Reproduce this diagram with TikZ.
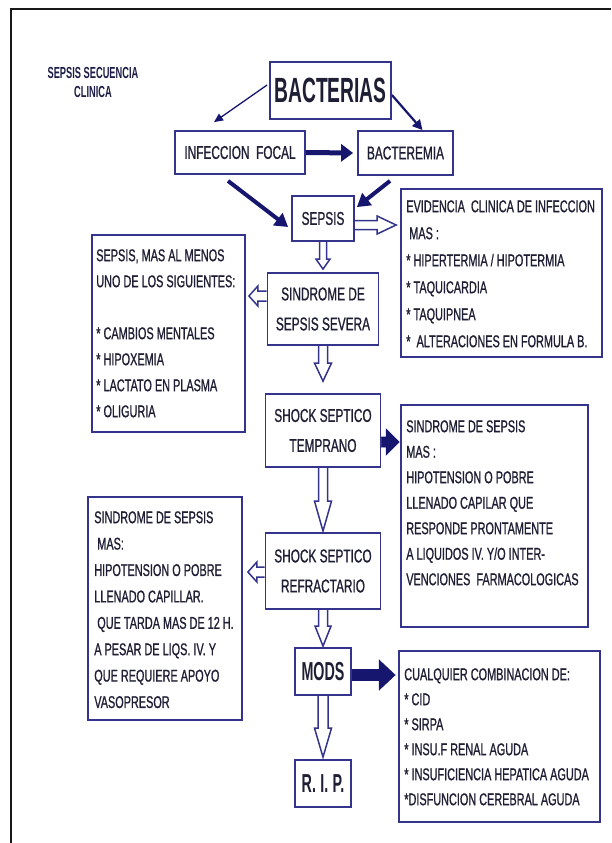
\documentclass[tikz,border=0pt]{standalone}
\usepackage{fontspec}
\usetikzlibrary{arrows.meta,calc}
\newfontfamily\infofont[FakeStretch=0.64,FakeBold=0.9]{Liberation Sans}
\newfontfamily\heavyfont[FakeStretch=0.55]{Liberation Sans Bold}
\newfontfamily\titlefont[FakeStretch=0.58]{Liberation Sans Bold}
\definecolor{boxc}{RGB}{52,52,140}
\definecolor{txtc}{RGB}{30,30,52}
\definecolor{navy}{RGB}{22,22,110}
\definecolor{titlec}{RGB}{28,28,70}
\pgfdeclarelayer{background}
\pgfsetlayers{background,main}

\tikzset{
  box/.style={draw=boxc, line width=1.8pt, inner sep=0pt, text=txtc, align=center},
  mainbox/.style={box, font=\infofont\fontsize{18.5}{30}\selectfont},
  heavybox/.style={box, font=\heavyfont\fontsize{26}{30}\selectfont},
  infobox/.style={draw=boxc, line width=1.8pt, inner sep=0pt},
  infotext/.style={anchor=north west, inner sep=0pt, align=left, text=txtc},
  hollowarr/.style={draw=boxc, fill=white, line width=1.5pt, line join=miter},
  solidarr/.style={fill=navy, draw=navy, line width=0.6pt, line join=miter},
  link/.style={draw=navy},
}

% block arrows: start, tip, shaft half-width, head half-width, head length
\newcommand\hollowdown[5]{\draw[hollowarr] ($(#1)+(-#3,0)$) -- ($(#2)+(-#3,-#5)$) -- ($(#2)+(-#4,-#5)$) -- (#2) -- ($(#2)+(#4,-#5)$) -- ($(#2)+(#3,-#5)$) -- ($(#1)+(#3,0)$);}
\newcommand\hollowright[5]{\draw[hollowarr] ($(#1)+(0,-#3)$) -- ($(#2)+(-#5,-#3)$) -- ($(#2)+(-#5,-#4)$) -- (#2) -- ($(#2)+(-#5,#4)$) -- ($(#2)+(-#5,#3)$) -- ($(#1)+(0,#3)$);}
\newcommand\hollowleft[5]{\draw[hollowarr] ($(#1)+(0,-#3)$) -- ($(#2)+(#5,-#3)$) -- ($(#2)+(#5,-#4)$) -- (#2) -- ($(#2)+(#5,#4)$) -- ($(#2)+(#5,#3)$) -- ($(#1)+(0,#3)$);}
\newcommand\solidright[5]{\filldraw[solidarr] ($(#1)+(0,-#3)$) -- ($(#2)+(-#5,-#3)$) -- ($(#2)+(-#5,-#4)$) -- (#2) -- ($(#2)+(-#5,#4)$) -- ($(#2)+(-#5,#3)$) -- ($(#1)+(0,#3)$) -- cycle;}

\begin{document}
\begin{tikzpicture}[x=1pt,y=-1pt]
\useasboundingbox (0,0) rectangle (611,843);

% page frame
\draw[line width=2.4pt, black!90] (11,843) -- (11,9) -- (611,9);

% heading
\node[text=titlec, font=\titlefont\fontsize{16}{19}\selectfont, align=center, inner sep=0pt] (title) at (93,82.5) {SEPSIS SECUENCIA\\CLINICA};

% main sequence
\node[box, minimum width=121, minimum height=57, font=\heavyfont\fontsize{35}{40}\selectfont] (bact) at (330.5,90.5) {BACTERIAS};
\node[mainbox, minimum width=130, minimum height=43] (infec) at (240,152.5) {INFECCION\ \ FOCAL};
\node[mainbox, minimum width=95, minimum height=44] (bactm) at (405.5,153) {BACTEREMIA};
\node[mainbox, minimum width=62, minimum height=45] (sepsis) at (323,218.5) {SEPSIS};
\node[mainbox, minimum width=111, minimum height=72] (sev) at (323,309) {SINDROME DE\\SEPSIS SEVERA};
\node[mainbox, minimum width=115, minimum height=73] (temp) at (323,430.5) {SHOCK SEPTICO\\TEMPRANO};
\node[mainbox, minimum width=115, minimum height=76] (refr) at (323,571) {SHOCK SEPTICO\\REFRACTARIO};
\node[heavybox, minimum width=56, minimum height=47] (mods) at (323,671.5) {MODS};
\node[heavybox, minimum width=56, minimum height=47] (rip) at (323,783.5) {R.\,I.\,P.};

% definition boxes
\node[infobox, minimum width=201, minimum height=168] (evid) at (501.5,273) {};
\node[infotext, font=\infofont\fontsize{17}{27}\selectfont] (evidtxt) at ($(evid.north west)+(6,12)$)
  {EVIDENCIA\ \ CLINICA DE INFECCION\\\hspace{3pt}MAS :\\{*} HIPERTERMIA / HIPOTERMIA\\{*} TAQUICARDIA\\{*} TAQUIPNEA\\{*}\ \ ALTERACIONES EN FORMULA B.};

\node[infobox, minimum width=153, minimum height=197] (left1) at (168.5,333.5) {};
\node[infotext, font=\infofont\fontsize{17}{26}\selectfont] (left1txt) at ($(left1.north west)+(5,15)$)
  {SEPSIS, MAS AL MENOS\\UNO DE LOS SIGUIENTES:\\[26pt]{*} CAMBIOS MENTALES\\{*} HIPOXEMIA\\{*} LACTATO EN PLASMA\\{*} OLIGURIA};

\node[infobox, minimum width=187, minimum height=222] (right2) at (494.5,516) {};
\node[infotext, font=\infofont\fontsize{17}{25.5}\selectfont] (right2txt) at ($(right2.north west)+(6,16)$)
  {SINDROME DE SEPSIS\\MAS :\\HIPOTENSION O POBRE\\LLENADO CAPILAR QUE\\RESPONDE PRONTAMENTE\\A LIQUIDOS IV. Y/O INTER-\\VENCIONES\ \ FARMACOLOGICAS};

\node[infobox, minimum width=154, minimum height=223] (left2) at (165,608.5) {};
\node[infotext, font=\infofont\fontsize{17}{26.4}\selectfont] (left2txt) at ($(left2.north west)+(7,15)$)
  {SINDROME DE SEPSIS\\\hspace{3pt}MAS:\\HIPOTENSION O POBRE\\LLENADO CAPILLAR.\\\hspace{3pt}QUE TARDA MAS DE 12 H.\\A PESAR DE LIQS. IV. Y\\QUE REQUIERE APOYO\\VASOPRESOR};

\node[infobox, minimum width=201, minimum height=171] (cualq) at (499.5,736.5) {};
\node[infotext, font=\infofont\fontsize{17}{25}\selectfont] (cualqtxt) at ($(cualq.north west)+(6,18)$)
  {CUALQUIER COMBINACION DE:\\{*} CID\\{*} SIRPA\\{*} INSU.F RENAL AGUDA\\{*} INSUFICIENCIA HEPATICA AGUDA\\{*}DISFUNCION CEREBRAL AGUDA};

% connectors
\begin{pgfonlayer}{background}
\draw[link, line width=1.3pt, -{Triangle[length=9pt,width=8pt]}] ($(bact.west)+(-2,-5.5)$) -- ($(infec.north)+(-26,-8)$);
\draw[link, line width=2.2pt, -{Triangle[length=10pt,width=10pt]}] ($(bact.east)+(0,4.5)$) -- ($(bactm.north)+(17,0)$);
\draw[link, line width=5pt, -{Triangle[length=12pt,width=17pt]}] (infec.east) -- ($(bactm.west)+(-4,0)$);
\draw[link, line width=4pt, -{Triangle[length=13pt,width=15pt]}] ($(infec.south)+(-12,6)$) -- ($(sepsis.west)+(-3,8.5)$);
\draw[link, line width=4pt, -{Triangle[length=13pt,width=15pt]}] ($(bactm.south)+(-15.5,5)$) -- ($(sepsis.north east)+(2,12)$);

\coordinate (a1s) at ($(sepsis.east)+(0,6.5)$);
\coordinate (a1t) at ($(evid.west|-a1s)+(-4,0)$);
\hollowright{a1s}{a1t}{4.5}{9}{19}

\coordinate (d1) at ($(sev.north)+(0,-3)$);
\hollowdown{sepsis.south}{d1}{3.5}{7}{10}
\coordinate (d2) at ($(temp.north)+(0,-12)$);
\hollowdown{sev.south}{d2}{4.5}{8.5}{18}
\coordinate (d3) at ($(refr.north)+(0,-1)$);
\hollowdown{temp.south}{d3}{4.5}{8.5}{30}
\coordinate (d4) at ($(mods.north)+(0,-1)$);
\hollowdown{refr.south}{d4}{4.5}{8}{20}
\coordinate (d5) at ($(rip.north)+(0,-2)$);
\hollowdown{mods.south}{d5}{5}{8.5}{29}

\coordinate (l1s) at ($(sev.west)+(0,-13)$);
\coordinate (l1t) at ($(left1.east|-l1s)+(3,0)$);
\hollowleft{l1s}{l1t}{5}{10}{9}
\coordinate (l2s) at ($(refr.west)+(0,1)$);
\coordinate (l2t) at ($(left2.east|-l2s)+(5,0)$);
\hollowleft{l2s}{l2t}{5}{10}{9}

\coordinate (r1s) at ($(temp.east)+(0,11.5)$);
\coordinate (r1t) at ($(right2.west|-r1s)+(-1,0)$);
\solidright{r1s}{r1t}{5}{13}{13}
\coordinate (r2s) at ($(mods.east)+(0,3.5)$);
\coordinate (r2t) at ($(cualq.west|-r2s)+(-3,0)$);
\solidright{r2s}{r2t}{5.5}{15}{16}
\end{pgfonlayer}
\end{tikzpicture}
\end{document}
